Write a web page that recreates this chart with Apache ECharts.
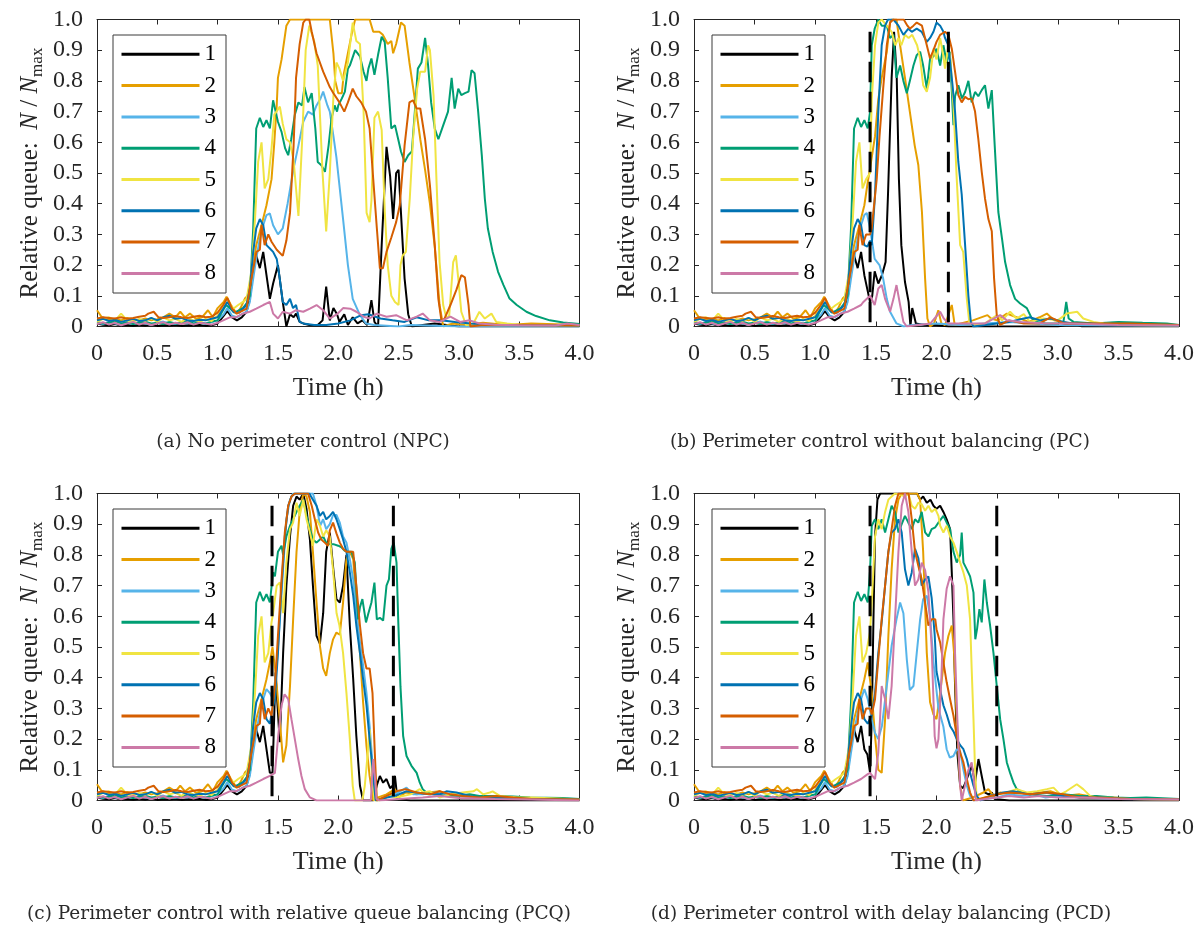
<!DOCTYPE html>
<html>
<head>
<meta charset="utf-8">
<script src="https://cdn.jsdelivr.net/npm/echarts@6/dist/echarts.min.js"></script>
<style>
html,body{margin:0;padding:0;background:#fff}
#chart{width:1203px;height:930px}
</style>
</head>
<body>
<div id="chart"></div>
<script>
// Region labels and their line colours
const regionNames = ['1','2','3','4','5','6','7','8'];
const regionColors = ['#000000','#E69F00','#56B4E9','#009E73','#F0E442','#0072B2','#D55E00','#CC79A7'];

// Relative queue [time (h), N/Nmax] before control starts (shared by all scenarios)
const early1 = [[0,0.01],[0.05,0.006],[0.1,0.004],[0.15,0.008],[0.2,0.003],[0.25,0.005],[0.3,0.002],[0.35,0.006],[0.4,0.003],[0.45,0.007],[0.5,0.002],[0.55,0.004],[0.6,0.003],[0.65,0.006],[0.7,0.002],[0.75,0.004],[0.8,0.003],[0.85,0.005],[0.9,0.002],[0.95,0.004],[1.0,0.01],[1.04,0.03],[1.08,0.05],[1.12,0.03],[1.16,0.02],[1.2,0.03],[1.24,0.048],[1.267,0.09],[1.295,0.178],[1.32,0.232],[1.35,0.19],[1.378,0.243],[1.405,0.167]];
const early2 = [[0,0.053],[0.04,0.03],[0.1,0.022],[0.15,0.025],[0.2,0.02],[0.25,0.028],[0.3,0.022],[0.35,0.02],[0.4,0.026],[0.45,0.02],[0.5,0.024],[0.55,0.03],[0.6,0.042],[0.65,0.03],[0.69,0.048],[0.73,0.03],[0.77,0.042],[0.82,0.025],[0.87,0.03],[0.92,0.053],[0.96,0.03],[1.0,0.06],[1.05,0.08],[1.074,0.097],[1.11,0.07],[1.157,0.042],[1.19,0.06],[1.226,0.091],[1.25,0.1],[1.28,0.156],[1.32,0.265],[1.364,0.33],[1.405,0.395]];
const early3 = [[0,0.012],[0.05,0.008],[0.1,0.015],[0.15,0.01],[0.2,0.006],[0.25,0.012],[0.3,0.008],[0.35,0.014],[0.4,0.01],[0.45,0.006],[0.5,0.012],[0.55,0.016],[0.6,0.01],[0.65,0.008],[0.7,0.014],[0.75,0.01],[0.8,0.018],[0.85,0.012],[0.9,0.008],[0.95,0.014],[1.0,0.02],[1.05,0.04],[1.08,0.06],[1.12,0.035],[1.16,0.03],[1.2,0.04],[1.24,0.048],[1.267,0.08],[1.295,0.156],[1.32,0.22],[1.35,0.287],[1.378,0.33],[1.405,0.363]];
const early4 = [[0,0.015],[0.05,0.01],[0.1,0.012],[0.15,0.018],[0.2,0.01],[0.25,0.014],[0.3,0.008],[0.35,0.012],[0.4,0.016],[0.45,0.01],[0.5,0.012],[0.55,0.008],[0.6,0.015],[0.65,0.01],[0.7,0.012],[0.75,0.018],[0.8,0.01],[0.85,0.014],[0.9,0.01],[0.95,0.016],[1.0,0.02],[1.04,0.05],[1.07,0.07],[1.1,0.06],[1.14,0.045],[1.18,0.053],[1.21,0.06],[1.24,0.075],[1.267,0.1],[1.295,0.32],[1.32,0.645],[1.35,0.68],[1.378,0.65],[1.405,0.672]];
const early5 = [[0,0.015],[0.05,0.025],[0.1,0.03],[0.15,0.02],[0.2,0.042],[0.25,0.02],[0.3,0.015],[0.35,0.025],[0.4,0.018],[0.45,0.028],[0.5,0.015],[0.55,0.03],[0.6,0.02],[0.65,0.025],[0.7,0.015],[0.75,0.028],[0.8,0.02],[0.85,0.015],[0.9,0.025],[0.95,0.018],[1.0,0.035],[1.046,0.07],[1.09,0.08],[1.13,0.058],[1.17,0.07],[1.21,0.08],[1.24,0.09],[1.28,0.178],[1.31,0.35],[1.336,0.536],[1.364,0.6],[1.39,0.45],[1.42,0.48]];
const early6 = [[0,0.02],[0.05,0.025],[0.1,0.018],[0.15,0.022],[0.2,0.015],[0.25,0.02],[0.3,0.025],[0.35,0.018],[0.4,0.02],[0.45,0.028],[0.5,0.02],[0.55,0.03],[0.6,0.035],[0.65,0.025],[0.7,0.028],[0.75,0.02],[0.8,0.018],[0.85,0.022],[0.9,0.02],[0.95,0.025],[1.0,0.03],[1.046,0.058],[1.08,0.08],[1.13,0.048],[1.18,0.045],[1.24,0.07],[1.267,0.124],[1.295,0.243],[1.32,0.32],[1.35,0.35],[1.378,0.33],[1.405,0.265]];
const early7 = [[0,0.026],[0.05,0.03],[0.1,0.028],[0.15,0.026],[0.2,0.03],[0.25,0.025],[0.3,0.028],[0.35,0.032],[0.4,0.035],[0.425,0.042],[0.47,0.048],[0.51,0.03],[0.55,0.028],[0.6,0.03],[0.65,0.034],[0.7,0.03],[0.75,0.028],[0.8,0.032],[0.85,0.035],[0.9,0.03],[0.95,0.032],[1.0,0.045],[1.046,0.07],[1.08,0.093],[1.12,0.058],[1.157,0.042],[1.2,0.05],[1.24,0.058],[1.28,0.156],[1.322,0.243],[1.35,0.25],[1.364,0.33],[1.39,0.265],[1.42,0.3]];
const early8 = [[0,0.008],[0.05,0.014],[0.1,0.006],[0.15,0.012],[0.2,0.004],[0.25,0.01],[0.3,0.015],[0.35,0.006],[0.4,0.012],[0.45,0.005],[0.5,0.01],[0.55,0.014],[0.6,0.006],[0.65,0.012],[0.7,0.008],[0.75,0.014],[0.8,0.006],[0.85,0.012],[0.9,0.01],[0.95,0.006],[1.0,0.012],[1.046,0.02],[1.1,0.03],[1.15,0.03],[1.21,0.042],[1.267,0.048],[1.32,0.058],[1.378,0.07]];

// (a) No perimeter control
const npc1 = [[1.433,0.09],[1.46,0.14],[1.5,0.2],[1.54,0.08],[1.57,0.0],[1.6,0.04],[1.63,0.03],[1.65,0.042],[1.68,0.015],[1.71,0.01],[1.76,0.005],[1.83,0.005],[1.87,0.02],[1.9,0.13],[1.93,0.02],[1.96,0.06],[1.99,0.04],[2.01,0.015],[2.05,0.04],[2.08,0.005],[2.12,0.03],[2.16,0.01],[2.2,0.02],[2.24,0.005],[2.275,0.086],[2.3,0.015],[2.33,0.0],[2.36,0.265],[2.4,0.585],[2.43,0.49],[2.455,0.35],[2.48,0.5],[2.5,0.51],[2.52,0.37],[2.55,0.156],[2.58,0.04],[2.61,0.0],[2.7,0.005],[2.8,0.01],[2.9,0.005],[3.0,0.0],[4.0,0.0]];
const npc2 = [[1.447,0.48],[1.47,0.6],[1.49,0.72],[1.5,0.81],[1.53,0.87],[1.57,0.98],[1.6,1.0],[1.93,1.0],[1.96,0.89],[1.975,0.8],[2.0,0.76],[2.03,0.76],[2.045,0.82],[2.08,0.89],[2.11,0.95],[2.14,1.0],[2.26,1.0],[2.29,0.96],[2.34,0.96],[2.37,0.95],[2.41,0.92],[2.44,0.93],[2.455,0.89],[2.48,0.92],[2.52,0.99],[2.55,0.98],[2.59,0.86],[2.635,0.74],[2.68,0.61],[2.72,0.51],[2.76,0.4],[2.8,0.26],[2.84,0.07],[2.87,0.0],[2.95,0.01],[3.05,0.005],[3.2,0.012],[3.4,0.005],[3.6,0.01],[4.0,0.005]];
const npc3 = [[1.433,0.368],[1.46,0.33],[1.5,0.3],[1.54,0.32],[1.58,0.4],[1.63,0.515],[1.67,0.59],[1.71,0.667],[1.75,0.7],[1.79,0.69],[1.82,0.72],[1.85,0.74],[1.875,0.765],[1.91,0.72],[1.93,0.7],[1.96,0.62],[1.985,0.55],[2.04,0.35],[2.08,0.2],[2.12,0.09],[2.18,0.037],[2.23,0.01],[2.3,0.005],[2.5,0.0],[2.6,0.005],[3.0,0.0],[4.0,0.0]];
const npc4 = [[1.433,0.645],[1.46,0.737],[1.474,0.743],[1.5,0.667],[1.53,0.634],[1.56,0.58],[1.585,0.558],[1.61,0.61],[1.64,0.69],[1.67,0.73],[1.7,0.72],[1.72,0.78],[1.75,0.73],[1.78,0.76],[1.81,0.645],[1.83,0.536],[1.86,0.525],[1.89,0.504],[1.92,0.59],[1.945,0.68],[1.97,0.72],[1.99,0.7],[2.0,0.72],[2.03,0.743],[2.055,0.765],[2.08,0.84],[2.096,0.85],[2.14,0.9],[2.18,0.88],[2.21,0.83],[2.234,0.8],[2.25,0.84],[2.275,0.873],[2.3,0.82],[2.33,0.885],[2.36,0.944],[2.385,0.927],[2.41,0.81],[2.44,0.645],[2.47,0.656],[2.497,0.61],[2.52,0.57],[2.55,0.536],[2.58,0.558],[2.61,0.57],[2.635,0.7],[2.66,0.84],[2.69,0.86],[2.72,0.94],[2.745,0.85],[2.77,0.73],[2.8,0.645],[2.83,0.61],[2.87,0.655],[2.91,0.7],[2.94,0.81],[2.965,0.71],[2.995,0.775],[3.02,0.754],[3.05,0.76],[3.08,0.765],[3.105,0.835],[3.13,0.825],[3.16,0.7],[3.19,0.558],[3.215,0.417],[3.24,0.32],[3.28,0.243],[3.325,0.178],[3.37,0.135],[3.42,0.091],[3.48,0.07],[3.56,0.048],[3.64,0.034],[3.754,0.02],[3.865,0.013],[4.0,0.008]];
const npc5 = [[1.447,0.58],[1.47,0.69],[1.516,0.716],[1.54,0.66],[1.57,0.61],[1.6,0.6],[1.63,0.54],[1.67,0.36],[1.7,0.6],[1.73,0.9],[1.76,0.98],[1.8,0.93],[1.83,0.85],[1.87,0.5],[1.9,0.31],[1.93,0.5],[1.96,0.75],[1.985,0.86],[2.01,0.84],[2.04,0.8],[2.08,0.86],[2.12,0.99],[2.15,0.93],[2.18,0.92],[2.21,0.7],[2.235,0.37],[2.26,0.34],[2.275,0.41],[2.3,0.68],[2.33,0.7],[2.36,0.64],[2.386,0.373],[2.41,0.2],[2.44,0.1],[2.47,0.08],[2.5,0.07],[2.516,0.2],[2.533,0.23],[2.56,0.243],[2.593,0.417],[2.62,0.61],[2.654,0.775],[2.68,0.83],[2.72,0.83],[2.745,0.916],[2.76,0.9],[2.79,0.753],[2.814,0.48],[2.84,0.21],[2.87,0.07],[2.897,0.026],[2.92,0.036],[2.953,0.21],[2.975,0.232],[2.995,0.156],[3.02,0.048],[3.06,0.004],[3.12,0.01],[3.17,0.048],[3.215,0.026],[3.27,0.042],[3.31,0.015],[3.4,0.01],[3.5,0.005],[4.0,0.003]];
const npc6 = [[1.433,0.254],[1.46,0.243],[1.49,0.22],[1.515,0.156],[1.54,0.08],[1.57,0.07],[1.6,0.09],[1.625,0.06],[1.65,0.07],[1.68,0.015],[1.71,0.01],[1.8,0.005],[1.9,0.005],[2.0,0.01],[2.1,0.02],[2.19,0.037],[2.25,0.04],[2.35,0.026],[2.45,0.02],[2.55,0.015],[2.65,0.03],[2.75,0.02],[2.85,0.02],[2.97,0.015],[3.1,0.01],[3.3,0.005],[4.0,0.003]];
const npc7 = [[1.447,0.276],[1.49,0.25],[1.54,0.23],[1.57,0.28],[1.6,0.37],[1.63,0.59],[1.65,0.81],[1.68,0.92],[1.71,0.99],[1.73,1.0],[1.76,1.0],[1.78,0.96],[1.82,0.89],[1.875,0.83],[1.93,0.78],[1.96,0.76],[2.01,0.73],[2.05,0.7],[2.08,0.73],[2.12,0.775],[2.15,0.75],[2.19,0.73],[2.23,0.7],[2.26,0.645],[2.29,0.48],[2.32,0.32],[2.345,0.19],[2.37,0.19],[2.4,0.243],[2.44,0.29],[2.48,0.34],[2.51,0.395],[2.55,0.59],[2.59,0.73],[2.62,0.737],[2.65,0.71],[2.68,0.71],[2.72,0.61],[2.76,0.46],[2.8,0.265],[2.83,0.09],[2.855,0.02],[2.88,0.025],[2.93,0.07],[2.98,0.12],[3.02,0.167],[3.05,0.16],[3.08,0.07],[3.095,0.0],[3.2,0.005],[4.0,0.003]];
const npc8 = [[1.433,0.08],[1.46,0.042],[1.5,0.026],[1.54,0.048],[1.6,0.042],[1.65,0.053],[1.71,0.048],[1.765,0.058],[1.82,0.07],[1.875,0.053],[1.93,0.026],[1.99,0.04],[2.04,0.06],[2.1,0.058],[2.15,0.048],[2.21,0.032],[2.26,0.026],[2.32,0.042],[2.4,0.032],[2.48,0.037],[2.57,0.02],[2.65,0.032],[2.7,0.042],[2.76,0.02],[2.84,0.015],[2.93,0.032],[3.01,0.015],[3.09,0.02],[3.17,0.01],[3.3,0.006],[3.5,0.004],[3.8,0.003],[3.9,0.01],[4.0,0.005]];

// (b) Perimeter control without balancing
const pc1 = [[1.43,0.12],[1.452,0.08],[1.47,0.1],[1.49,0.18],[1.52,0.14],[1.55,0.167],[1.58,0.21],[1.6,0.43],[1.63,0.81],[1.65,0.96],[1.672,0.81],[1.69,0.48],[1.71,0.265],[1.74,0.145],[1.77,0.08],[1.785,0.0],[1.8,0.06],[1.83,0.01],[1.9,0.005],[2.0,0.005],[2.1,0.0],[3.0,0.0],[3.13,0.01],[3.2,0.0],[4.0,0.0]];
const pc2 = [[1.433,0.47],[1.452,0.515],[1.493,0.62],[1.52,0.74],[1.548,0.81],[1.59,0.895],[1.617,0.99],[1.63,1.0],[1.67,1.0],[1.7,0.916],[1.74,0.81],[1.78,0.7],[1.82,0.59],[1.85,0.526],[1.88,0.373],[1.906,0.156],[1.925,0.026],[1.947,0.0],[1.98,0.01],[2.015,0.053],[2.04,0.01],[2.07,0.005],[2.126,0.07],[2.15,0.005],[2.2,0.01],[2.3,0.02],[2.42,0.037],[2.45,0.026],[2.5,0.02],[2.58,0.042],[2.66,0.03],[2.76,0.015],[2.85,0.03],[2.91,0.042],[2.97,0.02],[3.1,0.01],[3.3,0.005],[4.0,0.003]];
const pc3 = [[1.425,0.37],[1.452,0.32],[1.49,0.22],[1.53,0.2],[1.56,0.156],[1.59,0.09],[1.617,0.048],[1.67,0.01],[1.73,0.0],[1.8,0.005],[2.0,0.01],[2.2,0.005],[2.4,0.01],[2.6,0.015],[2.8,0.01],[3.0,0.005],[3.5,0.003],[4.0,0.003]];
const pc4 = [[1.433,0.645],[1.452,0.7],[1.466,0.916],[1.49,0.97],[1.52,1.0],[1.548,0.98],[1.59,0.98],[1.617,0.94],[1.645,0.95],[1.67,0.81],[1.7,0.85],[1.727,0.8],[1.755,0.76],[1.78,0.8],[1.81,0.85],[1.837,0.884],[1.865,0.895],[1.89,0.85],[1.92,0.775],[1.947,0.873],[1.975,0.88],[2.0,0.905],[2.03,0.85],[2.057,0.916],[2.084,0.86],[2.11,0.895],[2.14,0.656],[2.153,0.75],[2.18,0.786],[2.21,0.743],[2.236,0.764],[2.263,0.8],[2.29,0.73],[2.318,0.764],[2.345,0.75],[2.373,0.77],[2.4,0.786],[2.428,0.71],[2.456,0.77],[2.48,0.59],[2.51,0.373],[2.54,0.287],[2.566,0.21],[2.607,0.135],[2.648,0.09],[2.69,0.075],[2.745,0.06],[2.786,0.026],[2.83,0.015],[2.9,0.01],[3.0,0.01],[3.047,0.015],[3.07,0.08],[3.09,0.026],[3.13,0.015],[3.3,0.01],[3.5,0.015],[3.7,0.012],[3.9,0.01],[4.0,0.005]];
const pc5 = [[1.452,0.5],[1.466,0.74],[1.493,0.916],[1.52,0.99],[1.548,1.0],[1.59,0.98],[1.63,0.96],[1.66,0.916],[1.686,0.94],[1.71,0.916],[1.74,0.95],[1.77,0.94],[1.8,0.95],[1.84,0.916],[1.865,0.873],[1.89,0.786],[1.92,0.765],[1.947,0.81],[1.975,0.905],[2.0,0.87],[2.03,0.94],[2.057,0.88],[2.07,0.84],[2.098,0.916],[2.117,0.86],[2.14,0.72],[2.167,0.48],[2.195,0.265],[2.22,0.243],[2.25,0.09],[2.27,0.015],[2.3,0.004],[2.4,0.01],[2.5,0.037],[2.54,0.02],[2.607,0.048],[2.66,0.026],[2.72,0.04],[2.77,0.015],[2.88,0.026],[3.0,0.02],[3.075,0.042],[3.16,0.048],[3.21,0.026],[3.295,0.015],[3.38,0.01],[3.6,0.005],[4.0,0.003]];
const pc6 = [[1.43,0.26],[1.452,0.28],[1.466,0.265],[1.493,0.43],[1.52,0.7],[1.548,0.916],[1.576,0.98],[1.6,1.0],[1.645,1.0],[1.686,0.98],[1.727,0.95],[1.768,0.97],[1.796,0.96],[1.837,0.97],[1.878,0.96],[1.92,0.927],[1.947,0.94],[1.975,0.96],[2.0,0.99],[2.03,0.98],[2.057,0.96],[2.07,0.94],[2.098,0.916],[2.126,0.81],[2.153,0.7],[2.18,0.536],[2.208,0.43],[2.236,0.265],[2.263,0.1],[2.283,0.015],[2.305,0.0],[2.4,0.005],[2.5,0.01],[2.6,0.015],[2.72,0.026],[2.77,0.03],[2.855,0.02],[2.94,0.026],[3.047,0.015],[3.13,0.01],[3.3,0.01],[3.5,0.005],[4.0,0.003]];
const pc7 = [[1.452,0.3],[1.466,0.32],[1.507,0.48],[1.53,0.62],[1.56,0.775],[1.59,0.916],[1.617,0.99],[1.645,1.0],[1.73,1.0],[1.76,0.98],[1.78,0.97],[1.81,0.98],[1.837,0.99],[1.88,0.98],[1.92,0.916],[1.947,0.873],[1.975,0.9],[2.0,0.927],[2.03,0.95],[2.07,0.96],[2.098,0.95],[2.126,0.905],[2.153,0.83],[2.18,0.754],[2.208,0.73],[2.236,0.748],[2.263,0.74],[2.29,0.743],[2.318,0.7],[2.345,0.61],[2.373,0.504],[2.4,0.417],[2.428,0.35],[2.456,0.31],[2.475,0.156],[2.497,0.037],[2.525,0.005],[2.6,0.02],[2.72,0.01],[2.85,0.01],[2.94,0.03],[3.05,0.01],[3.3,0.01],[3.6,0.01],[4.0,0.005]];
const pc8 = [[1.397,0.08],[1.452,0.1],[1.49,0.07],[1.52,0.124],[1.548,0.135],[1.576,0.09],[1.617,0.048],[1.645,0.09],[1.67,0.135],[1.7,0.07],[1.727,0.015],[1.755,0.0],[1.85,0.005],[1.95,0.01],[2.03,0.048],[2.06,0.026],[2.1,0.01],[2.2,0.01],[2.4,0.01],[2.525,0.037],[2.58,0.02],[2.7,0.015],[2.9,0.01],[3.1,0.01],[3.5,0.005],[4.0,0.003]];

// (c) Perimeter control with relative queue balancing
const pcq1 = [[1.433,0.09],[1.455,0.09],[1.48,0.417],[1.515,0.19],[1.543,0.48],[1.57,0.7],[1.6,0.86],[1.626,0.96],[1.654,0.99],[1.68,0.98],[1.71,1.0],[1.737,0.95],[1.765,0.85],[1.79,0.7],[1.82,0.536],[1.848,0.51],[1.875,0.61],[1.9,0.81],[1.93,0.873],[1.96,0.75],[1.985,0.656],[2.013,0.645],[2.04,0.7],[2.068,0.8],[2.096,0.57],[2.124,0.395],[2.15,0.21],[2.18,0.048],[2.206,0.0],[2.29,0.0],[2.32,0.05],[2.345,0.08],[2.372,0.058],[2.4,0.07],[2.43,0.04],[2.455,0.05],[2.47,0.08],[2.49,0.005],[2.6,0.0],[4.0,0.0]];
const pcq2 = [[1.433,0.45],[1.455,0.5],[1.48,0.417],[1.515,0.265],[1.543,0.124],[1.57,0.18],[1.6,0.373],[1.626,0.59],[1.654,0.81],[1.68,0.94],[1.71,1.0],[1.737,0.99],[1.765,0.94],[1.79,0.81],[1.82,0.645],[1.848,0.504],[1.875,0.43],[1.9,0.406],[1.93,0.48],[1.957,0.525],[1.985,0.547],[2.013,0.54],[2.04,0.645],[2.068,0.786],[2.096,0.81],[2.124,0.786],[2.15,0.645],[2.18,0.48],[2.206,0.32],[2.234,0.178],[2.26,0.08],[2.29,0.0],[2.33,0.01],[2.4,0.02],[2.47,0.037],[2.5,0.01],[2.56,0.026],[2.65,0.02],[2.75,0.026],[2.84,0.03],[2.9,0.02],[3.0,0.015],[3.2,0.01],[3.4,0.01],[3.6,0.005],[4.0,0.003]];
const pcq3 = [[1.433,0.35],[1.46,0.33],[1.49,0.44],[1.516,0.59],[1.543,0.753],[1.57,0.916],[1.6,0.98],[1.626,1.0],[1.79,1.0],[1.82,0.96],[1.85,0.895],[1.875,0.916],[1.9,0.884],[1.93,0.9],[1.957,0.93],[1.985,0.93],[2.013,0.905],[2.04,0.86],[2.068,0.84],[2.096,0.786],[2.124,0.72],[2.15,0.61],[2.18,0.515],[2.206,0.44],[2.234,0.35],[2.26,0.243],[2.29,0.09],[2.317,0.0],[2.4,0.01],[2.47,0.02],[2.566,0.042],[2.62,0.02],[2.7,0.02],[2.8,0.026],[2.9,0.02],[3.0,0.015],[3.2,0.01],[3.5,0.005],[4.0,0.003]];
const pcq4 = [[1.433,0.645],[1.46,0.743],[1.475,0.73],[1.5,0.81],[1.53,0.83],[1.543,0.8],[1.57,0.86],[1.6,0.895],[1.626,0.916],[1.654,0.94],[1.68,0.96],[1.71,0.98],[1.737,0.927],[1.765,0.884],[1.79,0.85],[1.82,0.84],[1.848,0.85],[1.875,0.86],[1.9,0.84],[1.93,0.835],[1.96,0.835],[1.999,0.83],[2.027,0.825],[2.054,0.813],[2.082,0.81],[2.11,0.81],[2.137,0.775],[2.165,0.59],[2.18,0.63],[2.2,0.656],[2.23,0.58],[2.25,0.61],[2.275,0.645],[2.3,0.71],[2.32,0.59],[2.345,0.595],[2.372,0.586],[2.4,0.7],[2.42,0.72],[2.44,0.82],[2.46,0.84],[2.483,0.775],[2.497,0.59],[2.516,0.37],[2.538,0.21],[2.566,0.145],[2.607,0.113],[2.65,0.09],[2.676,0.058],[2.7,0.037],[2.73,0.026],[2.79,0.02],[2.9,0.015],[3.0,0.016],[3.09,0.02],[3.17,0.015],[3.31,0.015],[3.45,0.013],[3.59,0.01],[3.86,0.008],[4.0,0.005]];
const pcq5 = [[1.447,0.58],[1.46,0.61],[1.49,0.7],[1.516,0.71],[1.543,0.61],[1.57,0.775],[1.6,0.884],[1.626,0.905],[1.654,0.97],[1.68,0.927],[1.71,0.98],[1.737,0.916],[1.765,0.873],[1.79,0.83],[1.82,0.916],[1.848,0.895],[1.875,0.86],[1.9,0.88],[1.93,0.86],[1.957,0.75],[1.986,0.61],[2.01,0.57],[2.04,0.48],[2.068,0.35],[2.096,0.2],[2.12,0.048],[2.137,0.0],[2.2,0.0],[2.22,0.048],[2.24,0.135],[2.26,0.232],[2.28,0.08],[2.3,0.0],[2.34,0.0],[2.43,0.015],[2.48,0.01],[2.6,0.02],[2.676,0.037],[2.705,0.026],[2.76,0.03],[2.84,0.01],[2.93,0.02],[3.03,0.026],[3.12,0.03],[3.15,0.037],[3.2,0.02],[3.257,0.026],[3.28,0.03],[3.34,0.015],[3.48,0.01],[3.6,0.01],[3.86,0.006],[4.0,0.003]];
const pcq6 = [[1.433,0.25],[1.455,0.3],[1.475,0.33],[1.5,0.48],[1.53,0.7],[1.557,0.86],[1.585,0.96],[1.612,0.99],[1.64,1.0],[1.76,1.0],[1.79,0.98],[1.82,0.96],[1.848,0.927],[1.875,0.94],[1.9,0.916],[1.93,0.927],[1.957,0.94],[1.985,0.916],[2.013,0.884],[2.04,0.85],[2.068,0.81],[2.096,0.743],[2.124,0.667],[2.15,0.57],[2.18,0.48],[2.206,0.395],[2.234,0.31],[2.26,0.2],[2.29,0.08],[2.31,0.0],[2.4,0.01],[2.47,0.015],[2.566,0.03],[2.65,0.026],[2.75,0.02],[2.84,0.02],[2.897,0.03],[2.98,0.026],[3.09,0.015],[3.17,0.01],[3.31,0.01],[3.6,0.005],[4.0,0.003]];
const pcq7 = [[1.447,0.276],[1.475,0.373],[1.5,0.536],[1.53,0.72],[1.557,0.873],[1.585,0.96],[1.612,0.99],[1.64,1.0],[1.75,1.0],[1.78,0.96],[1.806,0.916],[1.833,0.873],[1.86,0.85],[1.888,0.84],[1.915,0.83],[1.93,0.88],[1.957,0.905],[1.985,0.87],[2.013,0.84],[2.04,0.82],[2.068,0.81],[2.096,0.81],[2.124,0.81],[2.15,0.7],[2.18,0.57],[2.206,0.48],[2.234,0.43],[2.26,0.43],[2.284,0.35],[2.303,0.156],[2.32,0.0],[2.4,0.015],[2.48,0.03],[2.56,0.037],[2.65,0.026],[2.76,0.02],[2.84,0.03],[2.93,0.02],[3.03,0.015],[3.17,0.01],[3.31,0.015],[3.45,0.01],[3.6,0.005],[4.0,0.003]];
const pcq8 = [[1.433,0.08],[1.475,0.09],[1.502,0.21],[1.53,0.31],[1.555,0.346],[1.585,0.33],[1.612,0.265],[1.64,0.2],[1.668,0.135],[1.695,0.08],[1.723,0.037],[1.765,0.01],[1.82,0.0],[2.27,0.0],[2.28,0.07],[2.29,0.135],[2.303,0.08],[2.317,0.005],[2.34,0.0],[2.5,0.005],[2.7,0.01],[2.84,0.015],[3.0,0.008],[3.3,0.005],[3.6,0.003],[4.0,0.0]];

// (d) Perimeter control with delay balancing
const pcd1 = [[1.43,0.15],[1.452,0.09],[1.466,0.265],[1.48,0.59],[1.493,0.86],[1.513,0.98],[1.535,1.0],[1.84,1.0],[1.865,0.98],[1.89,0.99],[1.92,0.97],[1.95,0.98],[1.975,0.96],[2.0,0.95],[2.03,0.96],[2.057,0.94],[2.084,0.916],[2.112,0.884],[2.126,0.743],[2.14,0.59],[2.153,0.373],[2.172,0.156],[2.195,0.048],[2.22,0.04],[2.25,0.07],[2.29,0.113],[2.318,0.06],[2.346,0.135],[2.373,0.08],[2.4,0.026],[2.43,0.02],[2.456,0.026],[2.48,0.005],[2.6,0.0],[4.0,0.0]];
const pcd2 = [[1.433,0.45],[1.466,0.35],[1.493,0.21],[1.52,0.1],[1.548,0.09],[1.576,0.265],[1.603,0.536],[1.63,0.753],[1.658,0.916],[1.686,0.98],[1.713,1.0],[1.84,1.0],[1.865,0.98],[1.89,0.81],[1.92,0.48],[1.947,0.32],[1.975,0.28],[2.0,0.265],[2.03,0.35],[2.07,0.48],[2.098,0.536],[2.126,0.57],[2.145,0.48],[2.167,0.265],[2.195,0.048],[2.216,0.0],[2.3,0.01],[2.387,0.026],[2.428,0.037],[2.47,0.015],[2.525,0.026],[2.607,0.02],[2.69,0.03],[2.77,0.02],[2.855,0.026],[2.94,0.03],[3.047,0.015],[3.18,0.02],[3.32,0.01],[3.46,0.01],[3.6,0.005],[4.0,0.003]];
const pcd3 = [[1.433,0.33],[1.466,0.265],[1.493,0.22],[1.52,0.2],[1.55,0.243],[1.59,0.373],[1.63,0.504],[1.67,0.59],[1.7,0.645],[1.727,0.61],[1.755,0.46],[1.78,0.36],[1.81,0.373],[1.837,0.48],[1.865,0.59],[1.89,0.656],[1.92,0.667],[1.947,0.6],[1.975,0.45],[2.016,0.3],[2.057,0.24],[2.084,0.167],[2.11,0.14],[2.14,0.145],[2.167,0.167],[2.195,0.16],[2.222,0.1],[2.25,0.048],[2.277,0.015],[2.305,0.0],[2.4,0.005],[2.5,0.01],[2.6,0.02],[2.7,0.015],[2.8,0.02],[2.9,0.01],[3.0,0.015],[3.2,0.01],[3.5,0.005],[4.0,0.003]];
const pcd4 = [[1.433,0.645],[1.452,0.75],[1.466,0.895],[1.493,0.916],[1.52,0.884],[1.548,0.916],[1.576,0.873],[1.603,0.916],[1.63,0.96],[1.658,0.94],[1.686,0.873],[1.713,0.9],[1.74,0.927],[1.768,0.905],[1.796,0.884],[1.823,0.916],[1.85,0.905],[1.878,0.94],[1.906,0.873],[1.933,0.86],[1.96,0.884],[1.99,0.89],[2.016,0.905],[2.03,0.9],[2.057,0.927],[2.084,0.905],[2.112,0.884],[2.14,0.81],[2.167,0.775],[2.195,0.8],[2.208,0.873],[2.222,0.775],[2.25,0.753],[2.277,0.73],[2.305,0.677],[2.32,0.525],[2.335,0.56],[2.354,0.623],[2.373,0.58],[2.395,0.72],[2.415,0.645],[2.442,0.57],[2.47,0.48],[2.497,0.373],[2.525,0.265],[2.552,0.2],[2.58,0.124],[2.607,0.09],[2.635,0.058],[2.662,0.037],[2.717,0.026],[2.77,0.02],[2.91,0.015],[3.05,0.02],[3.18,0.015],[3.32,0.015],[3.46,0.01],[3.6,0.008],[3.73,0.01],[4.0,0.005]];
const pcd5 = [[1.452,0.55],[1.466,0.645],[1.493,0.86],[1.52,0.916],[1.548,0.884],[1.576,0.94],[1.603,0.98],[1.63,0.99],[1.658,1.0],[1.7,0.997],[1.74,0.99],[1.768,1.0],[1.796,0.96],[1.823,0.95],[1.85,0.97],[1.878,0.965],[1.906,0.944],[1.933,0.96],[1.96,0.94],[1.99,0.95],[2.016,0.927],[2.03,0.895],[2.057,0.873],[2.084,0.895],[2.112,0.86],[2.14,0.84],[2.167,0.81],[2.195,0.775],[2.222,0.743],[2.25,0.7],[2.277,0.59],[2.29,0.43],[2.305,0.265],[2.318,0.1],[2.332,0.0],[2.4,0.01],[2.5,0.02],[2.58,0.026],[2.66,0.037],[2.745,0.026],[2.83,0.03],[2.91,0.037],[2.965,0.042],[3.02,0.02],[3.07,0.03],[3.157,0.053],[3.21,0.037],[3.267,0.015],[3.32,0.01],[3.46,0.008],[3.6,0.005],[4.0,0.003]];
const pcd6 = [[1.433,0.25],[1.466,0.28],[1.493,0.35],[1.52,0.48],[1.55,0.59],[1.576,0.7],[1.603,0.81],[1.63,0.873],[1.658,0.884],[1.686,0.916],[1.713,0.873],[1.74,0.753],[1.768,0.7],[1.796,0.743],[1.823,0.82],[1.85,0.79],[1.878,0.7],[1.906,0.72],[1.933,0.73],[1.96,0.66],[1.985,0.54],[2.0,0.42],[2.03,0.36],[2.057,0.31],[2.084,0.28],[2.112,0.243],[2.14,0.225],[2.167,0.2],[2.195,0.18],[2.222,0.167],[2.25,0.135],[2.277,0.09],[2.305,0.048],[2.332,0.015],[2.36,0.0],[2.44,0.015],[2.55,0.026],[2.63,0.03],[2.77,0.02],[2.91,0.026],[3.05,0.015],[3.18,0.01],[3.32,0.01],[3.6,0.005],[4.0,0.003]];
const pcd7 = [[1.452,0.3],[1.466,0.28],[1.493,0.33],[1.52,0.46],[1.548,0.59],[1.576,0.7],[1.603,0.81],[1.63,0.884],[1.658,0.96],[1.686,1.0],[1.77,1.0],[1.796,0.916],[1.823,0.81],[1.85,0.765],[1.878,0.72],[1.906,0.645],[1.933,0.57],[1.96,0.59],[1.99,0.59],[2.0,0.558],[2.03,0.515],[2.057,0.45],[2.084,0.385],[2.112,0.33],[2.14,0.276],[2.167,0.21],[2.195,0.156],[2.222,0.124],[2.25,0.07],[2.277,0.026],[2.305,0.0],[2.4,0.01],[2.5,0.02],[2.6,0.026],[2.77,0.02],[2.91,0.026],[3.05,0.02],[3.18,0.01],[3.32,0.01],[3.6,0.005],[4.0,0.003]];
const pcd8 = [[1.43,0.085],[1.452,0.09],[1.493,0.07],[1.52,0.156],[1.548,0.373],[1.576,0.33],[1.603,0.265],[1.63,0.373],[1.658,0.59],[1.686,0.81],[1.713,0.96],[1.74,1.0],[1.768,0.94],[1.796,0.81],[1.823,0.7],[1.85,0.72],[1.878,0.775],[1.906,0.75],[1.933,0.68],[1.96,0.5],[1.985,0.21],[2.0,0.17],[2.016,0.2],[2.04,0.395],[2.057,0.59],[2.084,0.69],[2.112,0.73],[2.14,0.7],[2.153,0.48],[2.172,0.265],[2.195,0.048],[2.208,0.0],[2.236,0.05],[2.263,0.1],[2.29,0.124],[2.305,0.08],[2.324,0.0],[2.4,0.005],[2.6,0.015],[2.72,0.01],[2.85,0.015],[3.0,0.01],[3.2,0.01],[3.5,0.005],[4.0,0.003]];

// Control period limits (h) for the controlled scenarios
const pcBounds = [1.452, 2.098];
const pcqBounds = [1.451, 2.457];
const pcdBounds = [1.452, 2.497];

const captionTexts = [
  '(a) No perimeter control (NPC)',
  '(b) Perimeter control without balancing (PC)',
  '(c) Perimeter control with relative queue balancing (PCQ)',
  '(d) Perimeter control with delay balancing (PCD)'
];

const earlyData = [early1, early2, early3, early4, early5, early6, early7, early8];
const scenarioData = [
  [npc1, npc2, npc3, npc4, npc5, npc6, npc7, npc8],
  [pc1, pc2, pc3, pc4, pc5, pc6, pc7, pc8],
  [pcq1, pcq2, pcq3, pcq4, pcq5, pcq6, pcq7, pcq8],
  [pcd1, pcd2, pcd3, pcd4, pcd5, pcd6, pcd7, pcd8]
];
const scenarioBounds = [[], pcBounds, pcqBounds, pcdBounds];

// Layout of the four panels
const layout = [
  {left: 97,  top: 19.5,  width: 482.5, height: 307, legendLeft: 113, legendTop: 35,  capX: 303, capY: 442},
  {left: 694, top: 19.5,  width: 485,   height: 307, legendLeft: 712, legendTop: 35,  capX: 880, capY: 442},
  {left: 97,  top: 493.5, width: 482.5, height: 307, legendLeft: 113, legendTop: 509, capX: 299, capY: 914},
  {left: 694, top: 493.5, width: 485,   height: 307, legendLeft: 712, legendTop: 509, capX: 881, capY: 914}
];

const SERIF = '"Liberation Serif", "Times New Roman", serif';
const AX = '#262626';

const grids = [], xAxes = [], yAxes = [], legends = [], series = [], graphics = [];

const fmt = v => (v === 0 ? '0' : v.toFixed(1));

layout.forEach((L, p) => {
  grids.push({left: L.left, top: L.top, width: L.width, height: L.height, containLabel: false, outerBoundsMode: 'none'});
  const lineCfg = {show: true, onZero: false, lineStyle: {color: AX, width: 1}};
  const tickCfg = {show: true, inside: true, length: 5, lineStyle: {color: AX, width: 1}};
  xAxes.push({
    gridIndex: p, type: 'value', min: 0, max: 4, interval: 0.5, position: 'bottom',
    axisLine: lineCfg, axisTick: tickCfg, splitLine: {show: false},
    axisLabel: {formatter: fmt, fontFamily: SERIF, fontSize: 24, color: AX, margin: 15},
    name: 'Time (h)', nameLocation: 'middle', nameGap: 49,
    nameTextStyle: {fontFamily: SERIF, fontSize: 26, color: AX}
  });
  xAxes.push({
    gridIndex: p, type: 'value', min: 0, max: 4, interval: 0.5, position: 'top',
    axisLine: lineCfg, axisTick: tickCfg, splitLine: {show: false}, axisLabel: {show: false}
  });
  yAxes.push({
    gridIndex: p, type: 'value', min: 0, max: 1, interval: 0.1, position: 'left',
    axisLine: lineCfg, axisTick: tickCfg, splitLine: {show: false},
    axisLabel: {formatter: fmt, fontFamily: SERIF, fontSize: 24, color: AX, margin: 14},
    name: '{r|Relative queue:  }{i|N}{r| / }{i|N}{s|max}',
    nameLocation: 'middle', nameRotate: 90, nameGap: 51,
    nameTextStyle: {
      fontFamily: SERIF, fontSize: 25, color: AX,
      rich: {
        r: {fontFamily: SERIF, fontSize: 25, color: AX},
        i: {fontFamily: SERIF, fontSize: 25, color: AX, fontStyle: 'italic'},
        s: {fontFamily: SERIF, fontSize: 17, color: AX, padding: [14, 0, 0, 0]}
      }
    }
  });
  yAxes.push({
    gridIndex: p, type: 'value', min: 0, max: 1, interval: 0.1, position: 'right',
    axisLine: lineCfg, axisTick: tickCfg, splitLine: {show: false}, axisLabel: {show: false}
  });

  scenarioData[p].forEach((vals, k) => {
    series.push({
      type: 'line', name: regionNames[k], xAxisIndex: 2 * p, yAxisIndex: 2 * p,
      data: earlyData[k].concat(vals),
      showSymbol: false, symbol: 'none', silent: true,
      color: regionColors[k],
      lineStyle: {color: regionColors[k], width: 2},
      z: 2 + k * 0.01
    });
  });

  scenarioBounds[p].forEach(b => {
    series.push({
      type: 'line', xAxisIndex: 2 * p, yAxisIndex: 2 * p,
      data: [[b, 0.96], [b, 0]],
      showSymbol: false, symbol: 'none', silent: true,
      lineStyle: {color: '#000', width: 3, type: [20.5, 9.5]},
      z: 3
    });
  });

  legends.push({
    left: L.legendLeft, top: L.legendTop, orient: 'vertical',
    data: regionNames, selectedMode: false, icon: 'rect',
    itemWidth: 78, itemHeight: 3, itemGap: 7.3,
    padding: [7.3, 10, 7.6, 8.5],
    borderColor: '#3a3a3a', borderWidth: 1, backgroundColor: '#fff',
    textStyle: {fontFamily: SERIF, fontSize: 23, color: '#000', lineHeight: 24}
  });

  graphics.push({
    type: 'text', x: L.capX, y: L.capY,
    style: {text: captionTexts[p], fontFamily: '"DejaVu Serif", serif', fontSize: 18.5, fill: '#2a2a2a', align: 'center', verticalAlign: 'middle'}
  });
});

const chart = echarts.init(document.getElementById('chart'), null, {renderer: 'canvas'});
chart.setOption({
  animation: false,
  backgroundColor: '#fff',
  grid: grids,
  xAxis: xAxes,
  yAxis: yAxes,
  legend: legends,
  series: series,
  graphic: graphics
});
</script>
</body>
</html>
